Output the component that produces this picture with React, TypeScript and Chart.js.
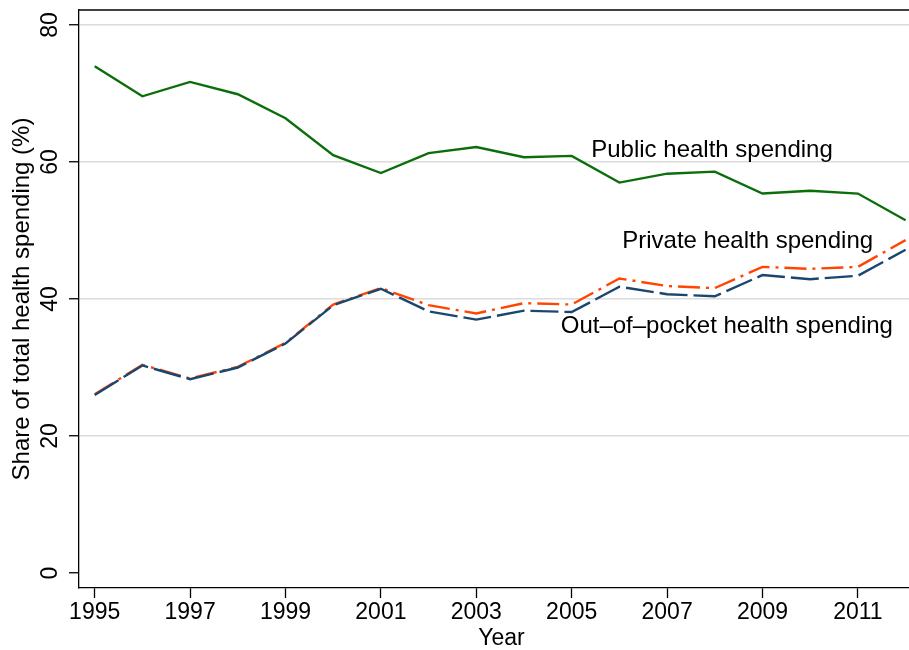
import React, { useEffect, useRef } from "react";
import { Chart, registerables } from "chart.js";

Chart.register(...registerables);

const years = [1995, 1996, 1997, 1998, 1999, 2000, 2001, 2002, 2003, 2004, 2005, 2006, 2007, 2008, 2009, 2010, 2011, 2012];
const publicShare = [74.0, 69.6, 71.7, 69.9, 66.4, 61.0, 58.4, 61.3, 62.2, 60.7, 60.9, 57.0, 58.3, 58.6, 55.4, 55.8, 55.4, 51.5];
const privateShare = [26.1, 30.4, 28.4, 30.1, 33.6, 39.2, 41.6, 39.1, 37.9, 39.4, 39.2, 43.0, 41.9, 41.6, 44.7, 44.4, 44.7, 48.6];
const oopShare = [26.0, 30.3, 28.3, 30.0, 33.5, 39.1, 41.5, 38.2, 37.0, 38.3, 38.1, 41.8, 40.7, 40.4, 43.5, 42.9, 43.4, 47.2];

const xTicks = [1995, 1997, 1999, 2001, 2003, 2005, 2007, 2009, 2011];
const yTicks = [0, 20, 40, 60, 80];

const seriesLabels = ["Public health spending", "Private health spending", "Out–of–pocket health spending"];
const labelYears = [2005.41, 2006.06, 2004.77];
const labelValues = [61.75, 48.45, 36.0];

const xTitle = "Year";
const yTitle = "Share of total health spending (%)";

const FONT = "'Liberation Sans', Arial, Helvetica, sans-serif";

export default function App() {
  const ref = useRef<HTMLCanvasElement | null>(null);

  useEffect(() => {
    if (!ref.current) return;
    Chart.defaults.font.family = FONT;
    Chart.defaults.color = "#000";

    const labelPlugin = {
      id: "seriesLabels",
      afterDatasetsDraw(chart: any) {
        const { ctx, scales } = chart;
        ctx.save();
        ctx.font = `24px ${FONT}`;
        ctx.fillStyle = "#000";
        ctx.textAlign = "left";
        ctx.textBaseline = "middle";
        seriesLabels.forEach((t, i) => {
          ctx.fillText(t, scales.x.getPixelForValue(labelYears[i]), scales.y.getPixelForValue(labelValues[i]));
        });
        ctx.restore();
      },
    };

    const topLinePlugin = {
      id: "topLine",
      afterDraw(chart: any) {
        const { ctx, chartArea } = chart;
        ctx.save();
        ctx.strokeStyle = "#000";
        ctx.lineWidth = 1.5;
        ctx.beginPath();
        ctx.moveTo(chartArea.left - 0.6, chartArea.top);
        ctx.lineTo(chartArea.right, chartArea.top);
        ctx.stroke();
        ctx.restore();
      },
    };

    const mk = (arr: number[]) => years.map((y, i) => ({ x: y, y: arr[i] }));

    const chart = new Chart(ref.current, {
      type: "line",
      data: {
        datasets: [
          {
            label: seriesLabels[2],
            data: mk(oopShare),
            borderColor: "#1a476f",
            borderWidth: 2.4,
            borderDash: [28, 6],
            pointRadius: 0,
            tension: 0,
            order: 0,
          },
          {
            label: seriesLabels[1],
            data: mk(privateShare),
            borderColor: "#ff4500",
            borderWidth: 2.4,
            borderDash: [22, 6, 3, 6],
            pointRadius: 0,
            tension: 0,
            order: 1,
          },
          {
            label: seriesLabels[0],
            data: mk(publicShare),
            borderColor: "#0b6e0b",
            borderWidth: 2.4,
            pointRadius: 0,
            tension: 0,
            order: 2,
          },
        ],
      },
      options: {
        animation: false,
        responsive: false,
        layout: { padding: { top: 10, left: 0, right: 0, bottom: 0 } },
        plugins: { legend: { display: false }, tooltip: { enabled: false } },
        scales: {
          x: {
            type: "linear",
            min: 1994.671,
            max: 2012.386,
            afterBuildTicks: (s: any) => {
              s.ticks = xTicks.map((v) => ({ value: v }));
            },
            afterFit: (s: any) => {
              s.height = 62;
              s.paddingLeft = 0;
              s.paddingRight = 0;
            },
            ticks: {
              autoSkip: false,
              maxRotation: 0,
              minRotation: 0,
              padding: 3,
              color: "#000",
              font: { size: 23, lineHeight: 1 },
              callback: (v: any) => String(v),
            },
            grid: {
              drawOnChartArea: false,
              drawTicks: true,
              tickLength: 10,
              tickColor: "#000",
              tickWidth: 1.3,
            },
            border: { display: true, color: "#000", width: 1.3 },
            title: {
              display: true,
              text: xTitle,
              color: "#000",
              font: { size: 23, lineHeight: 1 },
              padding: { top: 0, bottom: 0 },
            },
          },
          y: {
            type: "linear",
            min: -2.19,
            max: 82.2,
            afterBuildTicks: (s: any) => {
              s.ticks = yTicks.map((v) => ({ value: v }));
            },
            afterFit: (s: any) => {
              s.width = 79;
              s.paddingTop = 0;
              s.paddingBottom = 0;
            },
            ticks: {
              minRotation: 90,
              maxRotation: 90,
              crossAlign: "center",
              padding: 6,
              color: "#000",
              font: { size: 23, lineHeight: 1 },
              callback: (v: any) => String(v),
            },
            grid: {
              color: (c: any) => (c.tick && c.tick.value === 0 ? "rgba(0,0,0,0)" : "#dcdcdc"),
              lineWidth: 1.5,
              drawTicks: true,
              tickLength: 10,
              tickColor: "#000",
              tickWidth: 1.3,
            },
            border: { display: true, color: "#000", width: 1.3 },
            title: {
              display: true,
              text: yTitle,
              color: "#000",
              font: { size: 24, lineHeight: 1 },
              padding: { top: 10, bottom: 0 },
            },
          },
        },
      },
      plugins: [labelPlugin, topLinePlugin],
    } as any);

    return () => chart.destroy();
  }, []);

  return (
    <div style={{ position: "fixed", left: 0, top: 0, width: 909, height: 650, overflow: "hidden", background: "#fff" }}>
      <canvas ref={ref} width={924} height={650} style={{ width: 924, height: 650, display: "block" }} />
    </div>
  );
}
